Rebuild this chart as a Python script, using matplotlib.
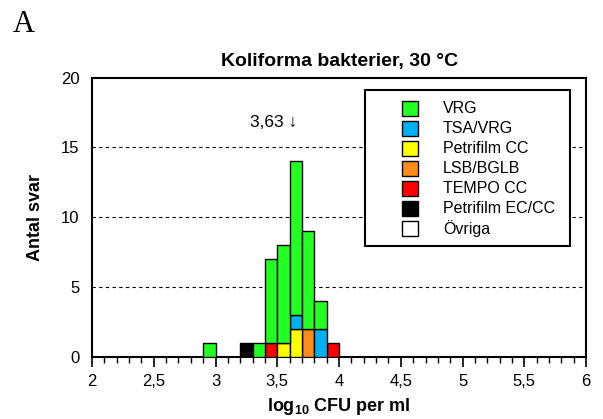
import matplotlib
matplotlib.use("Agg")
import matplotlib.pyplot as plt
import numpy as np
from matplotlib.patches import Rectangle
from matplotlib.ticker import MultipleLocator

plt.rcParams['font.family'] = ['Liberation Sans', 'DejaVu Sans']
plt.rcParams['mathtext.fontset'] = 'custom'
plt.rcParams['mathtext.rm'] = 'Liberation Sans'
plt.rcParams['mathtext.bf'] = 'Liberation Sans:bold'

# bin left edges (log10 CFU per ml), bin width 0.1
bin_left = [2.9, 3.0, 3.1, 3.2, 3.3, 3.4, 3.5, 3.6, 3.7, 3.8, 3.9]
methods = ["VRG", "TSA/VRG", "Petrifilm CC", "LSB/BGLB", "TEMPO CC", "Petrifilm EC/CC", "Övriga"]
colors = ["#22FF22", "#00B0F0", "#FFFF00", "#FF8C1A", "#FF0000", "#000000", "#FFFFFF"]
vrg          = [1, 0, 0, 0, 1, 6, 7, 11, 7, 2, 0]
tsa_vrg      = [0, 0, 0, 0, 0, 0, 0, 1, 0, 2, 0]
petrifilm_cc = [0, 0, 0, 0, 0, 0, 1, 2, 0, 0, 0]
lsb_bglb     = [0, 0, 0, 0, 0, 0, 0, 0, 2, 0, 0]
tempo_cc     = [0, 0, 0, 0, 0, 1, 0, 0, 0, 0, 1]
petrifilm_ec = [0, 0, 0, 1, 0, 0, 0, 0, 0, 0, 0]
ovriga       = [0, 0, 0, 0, 0, 0, 0, 0, 0, 0, 0]
series = [vrg, tsa_vrg, petrifilm_cc, lsb_bglb, tempo_cc, petrifilm_ec, ovriga]

xtick_values = [2, 2.5, 3, 3.5, 4, 4.5, 5, 5.5, 6]
xtick_labels = ["2", "2,5", "3", "3,5", "4", "4,5", "5", "5,5", "6"]
ytick_values = [0, 5, 10, 15, 20]

median_label = "3,63 ↓"
median_value = 3.63

fig = plt.figure(figsize=(6.03, 4.19), dpi=100)
ax = fig.add_axes([0.1526, 0.148, 0.8194, 0.667])

width = 0.1
bottom = np.zeros(len(bin_left))
# stack from bottom: Övriga ... VRG
for vals, col in zip(reversed(series), reversed(colors)):
    vals = np.array(vals, dtype=float)
    for x, b, h in zip(bin_left, bottom, vals):
        if h > 0:
            ax.bar(x, h, width=width, bottom=b, align='edge', color=col,
                   edgecolor='black', linewidth=1.0, zorder=3)
    bottom += vals

ax.set_xlim(2, 6)
ax.set_ylim(0, 20)
ax.set_xticks(xtick_values)
ax.set_xticklabels(xtick_labels)
ax.xaxis.set_minor_locator(MultipleLocator(0.1))
ax.set_yticks(ytick_values)
ax.tick_params(axis='x', which='major', direction='out', length=7, width=1.2, labelsize=12, pad=5)
ax.tick_params(axis='x', which='minor', direction='out', length=4, width=1.0)
ax.tick_params(axis='y', which='both', length=0, labelsize=12, pad=9)
for y in [5, 10, 15]:
    ax.axhline(y, color='black', linestyle=(0, (3, 3)), linewidth=0.8, zorder=1)
for s in ax.spines.values():
    s.set_linewidth(1.5)

ax.set_title("Koliforma bakterier, 30 °C", fontsize=14, fontweight='bold', pad=8)
ax.set_ylabel("Antal svar", fontsize=13, fontweight='bold', labelpad=12)
ax.set_xlabel(r"$\mathbf{log_{10}}$ CFU per ml", fontsize=13, fontweight='bold', labelpad=5)

ax.text(median_value + 0.03, 16.75, median_label, ha='right', va='center', fontsize=12.5)

# legend drawn in axes fraction coordinates
T = ax.transAxes
ax.add_patch(Rectangle((0.5526, 0.397), 0.9676 - 0.5526, 0.955 - 0.397, transform=T,
                       facecolor='white', edgecolor='black', linewidth=1.5, zorder=6))
ax_h = 279.5
for i, (m, c) in enumerate(zip(methods, colors)):
    yc = 1 - (108.5 + 20 * i - 77.5) / ax_h
    ax.add_patch(Rectangle((0.6275, yc - 0.0268), 0.0324, 0.0537, transform=T,
                           facecolor=c, edgecolor='black', linewidth=1.0, zorder=7))
    ax.text(0.7105, yc, m, transform=T, ha='left', va='center', fontsize=11.5, zorder=8)

fig.text(0.04, 0.942, "A", family='Liberation Serif', fontsize=22, ha='center', va='center')

fig.savefig("out.png", dpi=100)
